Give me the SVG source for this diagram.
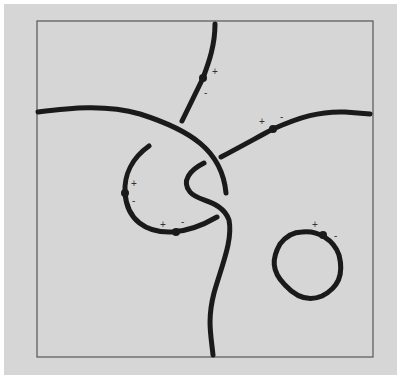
<svg xmlns="http://www.w3.org/2000/svg" width="397" height="375" viewBox="0 0 397 375">
<style>
.c{fill:none;stroke:#1a1a1a;stroke-width:5;stroke-linecap:round;stroke-linejoin:round}
.d{fill:#1a1a1a}
.t{font-family:"Liberation Sans",Arial,sans-serif;font-size:10px;fill:#333}
</style>
<rect x="0" y="0" width="397" height="375" fill="#fff"/>
<rect x="4" y="4" width="393" height="371" fill="#d6d6d6"/>
<rect x="37" y="21" width="336" height="336" fill="none" stroke="#555" stroke-width="1.2"/>
<g id="connectors">
<g id="curve-top">
<path class="c" d="M215,24 C215,45 209,62 203,78 L182,121"/>
<circle class="d" cx="203" cy="78" r="4"/>
<text class="t" x="212" y="75">+</text>
<text class="t" x="204" y="96">-</text>
</g>
<g id="curve-arc">
<path class="c" d="M38,112 C70,108 105,104 140,114 C190,130 222,150 226,193"/>
</g>
<g id="curve-right">
<path class="c" d="M221,157 C240,147 258,137 273,129 C300,117 320,111 345,112 L370,114"/>
<circle class="d" cx="273" cy="129" r="4"/>
<text class="t" x="259" y="125">+</text>
<text class="t" x="280" y="120">-</text>
</g>
<g id="curve-c">
<path class="c" d="M149,146 C132,158 124,175 125,193 C127,220 146,233 172,232 C190,231 205,224 217,217"/>
<circle class="d" cx="125" cy="193" r="4"/>
<circle class="d" cx="176" cy="232" r="4"/>
<text class="t" x="131" y="187">+</text>
<text class="t" x="132" y="204">-</text>
<text class="t" x="160" y="228">+</text>
<text class="t" x="181" y="225">-</text>
</g>
<g id="curve-s">
<path class="c" d="M204,163 C190,170 181,181 190,192 C198,202 222,200 229,220 C233,240 222,265 214,293 C207,320 211,335 213,355"/>
</g>
<g id="loop">
<path class="c" d="M302,232 C318,230 334,240 339,255 C344,274 338,288 322,296 C308,302 296,297 285,285 C271,271 272,258 280,244 C287,235 294,232 302,232 Z"/>
<circle class="d" cx="323" cy="235" r="4"/>
<text class="t" x="312" y="228">+</text>
<text class="t" x="334" y="239">-</text>
</g>
</g>
</svg>
